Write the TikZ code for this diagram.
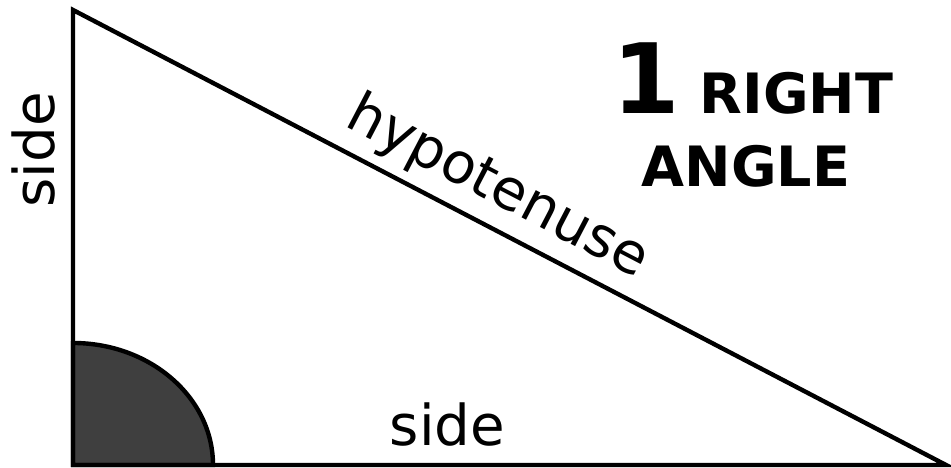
\documentclass[tikz,border=0pt]{standalone}
\usepackage{fontspec}
\setmainfont{DejaVu Sans}
\usetikzlibrary{positioning, math}
\definecolor{mygray}{RGB}{63,63,63}

\begin{document}
\begin{tikzpicture}[x=0.01cm, y=0.01cm, line width=1.25pt]
\tikzset{
lbl/.style={font=\fontsize{16}{19}\selectfont, inner sep=0pt},
big/.style={font=\bfseries\fontsize{15.8}{19}\selectfont, inner sep=0pt, anchor=base}
}
\useasboundingbox (0,0) rectangle (951,468);

\coordinate (top) at (73,458);
\coordinate (corner) at (73,3);
\coordinate (tip) at (946,3);

% right angle mark
\filldraw[fill=mygray] (corner) -- ++(140,0) arc[start angle=0, end angle=90, x radius=140, y radius=122] -- cycle;

\draw[line join=miter] (top) -- (corner) -- (tip) -- cycle;

\path (top) -- (tip) node[lbl, pos=0.466, sloped, above=2.5pt] (hyp) {hypotenuse};
\path (corner) -- (tip) node[lbl, pos=0.429, above=4.8pt] (base) {side};
\node[lbl, rotate=90, anchor=south] (leg) at (57,318) {side};

\node[big] (title) at (753,354) {{\fontsize{27.6}{30}\selectfont 1} RIGHT};
\node[big] (angle) at (746,281) {ANGLE};
\end{tikzpicture}
\end{document}
